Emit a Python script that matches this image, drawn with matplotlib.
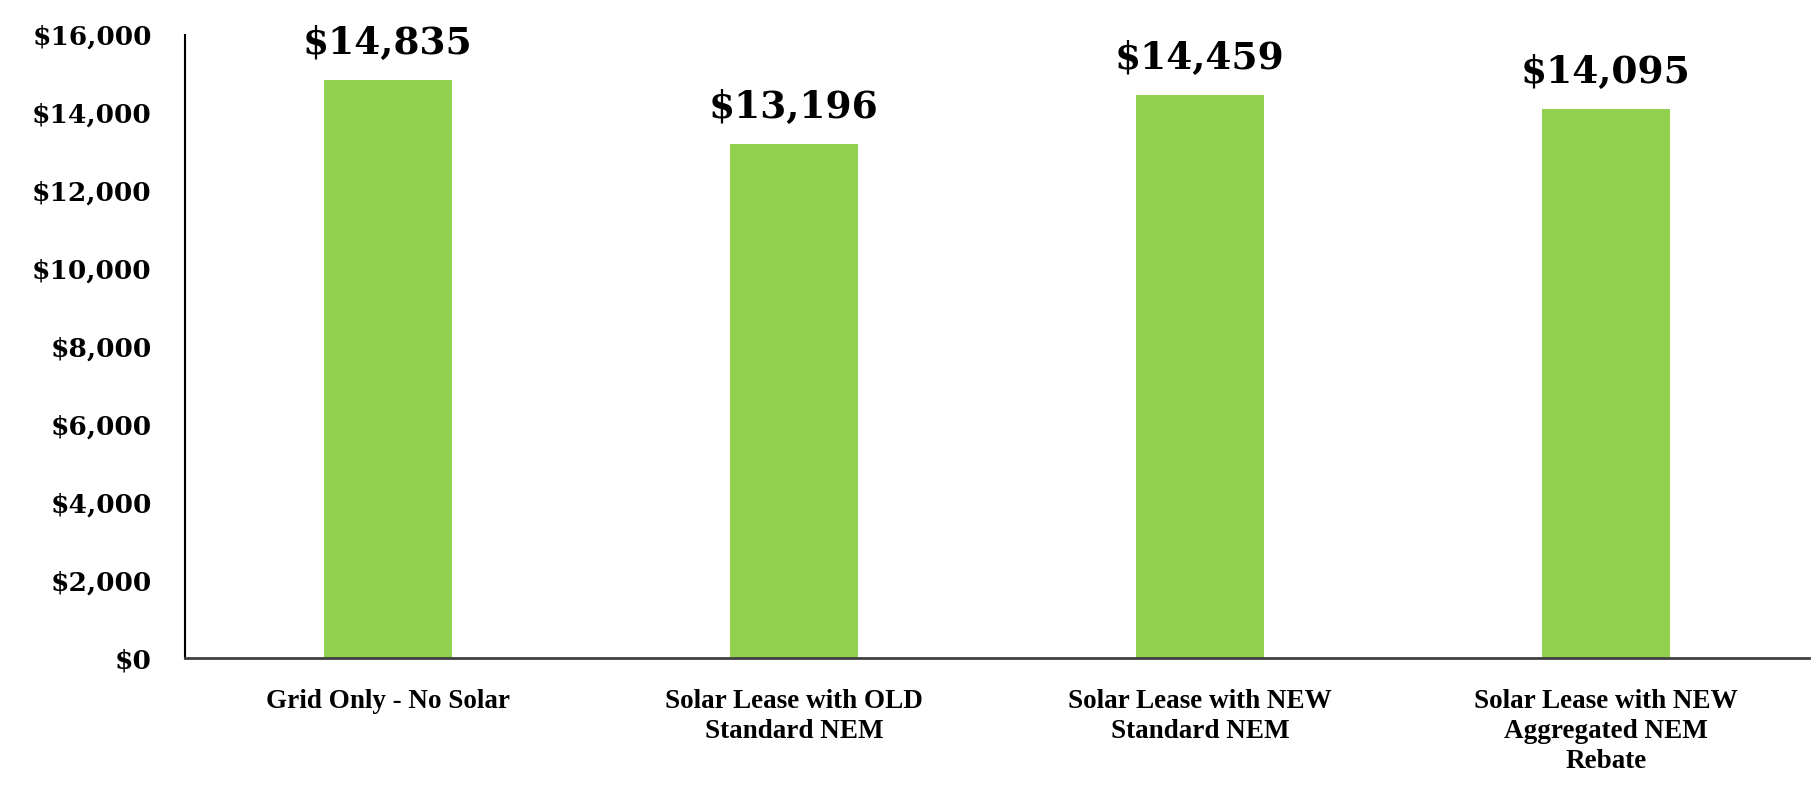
import matplotlib
matplotlib.use("Agg")
import matplotlib.pyplot as plt
from matplotlib.ticker import FuncFormatter

categories = ["Grid Only - No Solar",
              "Solar Lease with OLD\nStandard NEM",
              "Solar Lease with NEW\nStandard NEM",
              "Solar Lease with NEW\nAggregated NEM\nRebate"]
values = [14835, 13196, 14459, 14095]
yticks = [0, 2000, 4000, 6000, 8000, 10000, 12000, 14000, 16000]

W, H = 1816, 794
fig = plt.figure(figsize=(W / 100, H / 100), dpi=100)
left, right, top, bottom = 185, 1809, 35, 658
ax = fig.add_axes([left / W, 1 - bottom / H, (right - left) / W, (bottom - top) / H])

x = list(range(len(categories)))
ax.bar(x, values, width=0.315, color="#92D050", zorder=2)
ax.set_xlim(-0.5, len(categories) - 0.5)
ax.set_ylim(0, 16000)
ax.set_yticks(yticks)
ax.yaxis.set_major_formatter(FuncFormatter(lambda v, p: f"${v:,.0f}"))
ax.set_xticks(x)
ax.set_xticklabels(categories, fontfamily="Liberation Serif", fontweight="bold",
                   fontsize=19.5, linespacing=1.28)
for lab in ax.get_yticklabels():
    lab.set_fontfamily("DejaVu Serif")
    lab.set_fontweight("bold")
    lab.set_fontsize(19)
ax.tick_params(axis="both", length=0)
ax.tick_params(axis="y", pad=24)
ax.tick_params(axis="x", pad=22)

for s in ["top", "right"]:
    ax.spines[s].set_visible(False)
ax.spines["left"].set_color("black")
ax.spines["left"].set_linewidth(1.5)
ax.spines["bottom"].set_color("#404040")
ax.spines["bottom"].set_linewidth(2)

for xi, v in zip(x, values):
    ax.annotate(f"${v:,.0f}", (xi, v), xytext=(0, 13), textcoords="offset points",
                ha="center", va="bottom", fontsize=27, fontweight="bold",
                fontfamily="DejaVu Serif", annotation_clip=False)

fig.savefig("out.png", dpi=100, facecolor="white")
